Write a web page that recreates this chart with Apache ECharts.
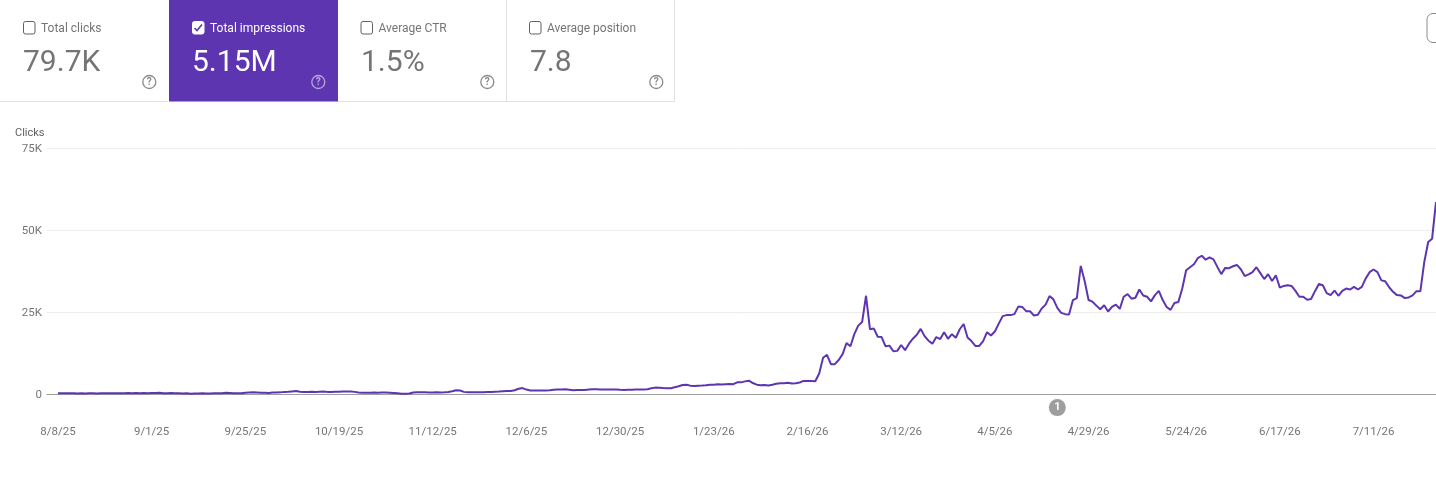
<!DOCTYPE html>
<html><head><meta charset="utf-8"><style>html,body{margin:0;padding:0;background:#fff;overflow:hidden}#c{width:1436px;height:479px}</style>
<script src="https://cdn.jsdelivr.net/npm/echarts@6/dist/echarts.min.js"></script></head><body><div id="c"></div>
<script>
const cardTitles = ["Total clicks","Total impressions","Average CTR","Average position"];
const cardValues = ["79.7K","5.15M","1.5%","7.8"];
const tickDays = [0,24,48,72,96,120,144,168,192,216,240,264,289,313,337];
const tickLabels = ["8/8/25","9/1/25","9/25/25","10/19/25","11/12/25","12/6/25","12/30/25","1/23/26","2/16/26","3/12/26","4/5/26","4/29/26","5/24/26","6/17/26","7/11/26"];
const annotationPoint = [[256,-4]];
// daily values, thousands
const valuesA = [.35,.4,.35,.4,.4,.3,.35,.3,.35,.35,.3,.35,.4,.4,.35,.4,.4,.4,.45,.4,.45,.4,.45,.4,.45,.45,.5,.4,.4,.45,.35,.35,.3,.35,.25,.3,.3,.35,.3,.3,.35,.35,.4,.5,.45,.4,.4,.35,.5,.6,.65,.6,.55,.5,.45,.6,.6,.65,.8,.85,.95,1.05,.85,.8,.8,.85,.75,.85,.9,.8,.8,.85,.85,.9,.95,.95,.8,.6,.55,.55,.55,.6,.55,.6,.6,.55,.45,.35,.25,.2,.3,.6,.65,.7,.65,.6,.6,.65,.6,.65];
const valuesB = [.75,1.0,1.3,1.2,.8,.7,.65,.65,.65,.7,.75,.8,.85,.9,1.0,1.05,1.05,1.3,1.75,1.95,1.5,1.2,1.25,1.2,1.2,1.25,1.3,1.45,1.55,1.55,1.6,1.45,1.3,1.35,1.35,1.4,1.55,1.6,1.6,1.55,1.55,1.5,1.5,1.55,1.45,1.4,1.45,1.45,1.5,1.5,1.55,1.6,1.9,2.1,2.05,1.95,1.9,1.9,2.2,2.5,2.9,3.0,2.7,2.6,2.7,2.75,2.85,3.0,3.0,3.1,3.05,3.15,3.2,3.15,3.7,3.7,4.0,4.2,3.5,3.0,2.85,2.9,2.75,3.0,3.3];
const valuesC = [3.45,3.45,3.55,3.35,3.45,3.65,4.15,4.15,4.15,4.05,6.4,11.2,12.1,9.25,9.25,10.5,12.3,15.7,14.7,18.4,21,22.1,30.1,19.9,20.1,17.6,17.5,14.7,14.9,13.2,13.3,15.1,13.5,15.5,17,18.2,20,17.8,16.4,15.5,17.5,16.9,19,17,18.4,17.3,19.9,21.5,17.4,16.3,14.8,14.8,16.3,19,18,19.2,21.6,23.9,24.2,24.2,24.5,26.8,26.7,25.4,25.4,24.1,24.3,26.2,27.4,30,29,26.4,24.9,24.5,24.4,28.8,29.4,39.2,34.6,28.8,28.3,27.1];
const valuesD = [26.0,27.2,25.3,26.7,27.4,26.1,29.8,30.6,29.2,29.5,32,30.2,29.8,28.4,30.3,31.6,28.8,26.7,25.8,27.9,28.2,32.3,37.9,38.8,39.7,41.6,42.3,41.1,41.8,41.2,38.9,36.7,38.6,38.5,39.1,39.5,38.2,36.1,36.6,37.3,38.8,37,35.2,36.7,34.6,36.3,32.6,33.1,33.3,33.1,31.6,29.8,29.8,28.9,29.1,31.5,33.7,33.3,30.9,30.3,31.7,30.1,31.6,32.3,32,32.8,32,32.8,35.4,37.3,38.1,37.3,34.8,34.5,32.7,31.3,30.3,30.2,29.4,29.6,30.2,31.5,31.5,40.4,46.5,47.5,58.7];
const dailyValues = valuesA.concat(valuesB, valuesC, valuesD);

const PURPLE = "#5e35b1", GREY = "#757575", FONT = "Roboto";
const cardX = [0,169,338,507], contentShift = [0,0,-0.5,-1], cardW = 168, borderX = [0,0,506.5,674.5];
const g = [];
cardTitles.forEach((t,i)=>{
  const x = cardX[i], cx = x + contentShift[i], on = i===1, tc = on ? "#fff" : GREY;
  g.push({type:"rect",silent:true,shape:{x,y:0,width:cardW+(on?1:0),height:101.5},style:{fill:on?PURPLE:"#fff"}});
  if(!on){
    g.push({type:"line",silent:true,shape:{x1:x,y1:101.5,x2:x+cardW,y2:101.5},style:{stroke:"#dfdfdf",lineWidth:1}});
    if(borderX[i]) g.push({type:"line",silent:true,shape:{x1:borderX[i],y1:0,x2:borderX[i],y2:102},style:{stroke:"#dfdfdf",lineWidth:1}});
  }
  g.push({type:"rect",silent:true,shape:{x:cx+23.5,y:21.5,width:11.5,height:12.5,r:2},style:{fill:on?"#fff":"none",stroke:on?"#fff":"#616161",lineWidth:1}});
  if(on) g.push({type:"polyline",silent:true,shape:{points:[[cx+25.5,28],[cx+28,30.5],[cx+33,24.5]]},style:{stroke:PURPLE,lineWidth:1.6,fill:"none"}});
  g.push({type:"text",silent:true,x:cx+41,y:29,style:{text:t,fill:on?"#fff":GREY,font:"12px "+FONT,textAlign:"left",textVerticalAlign:"middle"}});
  g.push({type:"text",silent:true,x:x+23,y:63.5,style:{text:cardValues[i],fill:tc,font:"30px "+FONT,textAlign:"left",textVerticalAlign:"middle"}});
  const hc = on ? "#b9a7de" : "#8a8a8a";
  g.push({type:"circle",silent:true,shape:{cx:x+149.3,cy:82,r:6.5},style:{fill:"none",stroke:hc,lineWidth:1.3}});
  g.push({type:"text",silent:true,x:x+149.3,y:82.5,style:{text:"?",fill:hc,font:"bold 10px "+FONT,textAlign:"center",textVerticalAlign:"middle"}});
});
g.push({type:"rect",silent:true,shape:{x:1427,y:13.5,width:30,height:29,r:6},style:{fill:"#fff",stroke:"#8a8a8a",lineWidth:1}});
g.push({type:"text",silent:true,x:15,y:133,style:{text:"Clicks",fill:"#616161",font:"11px "+FONT,textAlign:"left",textVerticalAlign:"middle"}});

const chart = echarts.init(document.getElementById("c"));
chart.setOption({
  animation:false,
  backgroundColor:"#fff",
  textStyle:{fontFamily:FONT},
  grid:{left:47,right:0,top:148.5,height:246,containLabel:false},
  xAxis:{type:"value",min:-2.8,max:353,
    axisLine:{show:true,lineStyle:{color:"#9e9e9e",width:1}},
    axisTick:{show:false},splitLine:{show:false},
    axisLabel:{customValues:tickDays,color:GREY,fontSize:11.5,fontFamily:FONT,margin:32,hideOverlap:false,showMinLabel:true,showMaxLabel:true,
      formatter:v=>tickLabels[tickDays.indexOf(v)]||""}},
  yAxis:{type:"value",min:0,max:75,interval:25,
    axisLine:{show:false},axisTick:{show:false},
    splitLine:{lineStyle:{color:"#ececec",width:1}},
    axisLabel:{color:GREY,fontSize:11.5,fontFamily:FONT,margin:5,verticalAlign:"top",lineHeight:2,formatter:v=>v===0?"0":v+"K"}},
  series:[{type:"line",data:dailyValues.map((v,i)=>[i,v]),showSymbol:false,smooth:false,
    lineStyle:{color:PURPLE,width:2},itemStyle:{color:PURPLE}},
    {type:"scatter",clip:false,silent:true,data:annotationPoint,symbol:"circle",symbolSize:17,itemStyle:{color:"#9e9e9e",opacity:1},
      label:{show:true,position:"inside",color:"#fff",fontSize:11,fontWeight:"bold",fontFamily:FONT,formatter:"1"}}],
  graphic:g
});
</script></body></html>
